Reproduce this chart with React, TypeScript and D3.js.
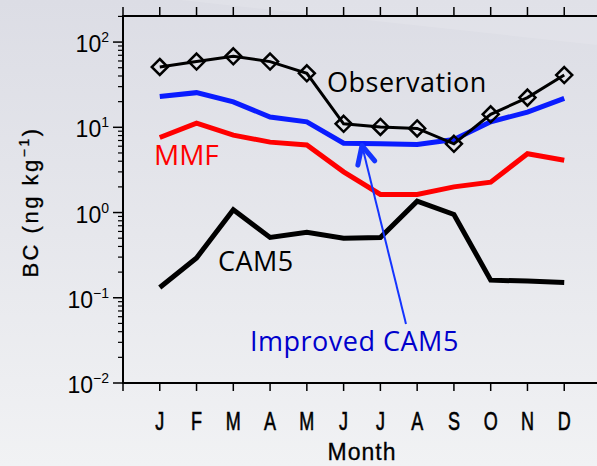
import React from "react";
import * as d3 from "d3";

const months = ["J", "F", "M", "A", "M", "J", "J", "A", "S", "O", "N", "D"];
const observation = [51, 59, 68, 59, 43, 11, 10.1, 9.7, 6.4, 14.2, 22.3, 41];
const improvedCam5 = [23, 25.5, 19.9, 13.2, 11.6, 6.5, 6.4, 6.3, 7.2, 11.6, 15.1, 21.8];
const mmf = [7.6, 11.2, 8.1, 6.7, 6.2, 3.0, 1.63, 1.63, 2.0, 2.27, 4.9, 4.1];
const cam5 = [0.132, 0.293, 1.08, 0.51, 0.586, 0.5, 0.51, 1.36, 0.95, 0.161, 0.157, 0.151];
const yDecades = [-2, -1, 0, 1, 2];

const W = 597;
const H = 466;
const L = 123, R = 601, T = 16, B = 383;

export default function App() {
  const x = d3.scaleLinear().domain([0, 13]).range([L, R]);
  const y = d3.scaleLog().domain([0.01, Math.pow(10, 2 + (42 - 16) / 85)]).range([B, T]);
  const line = d3
    .line<number>()
    .x((_, i) => x(i + 1))
    .y((d) => y(d));

  const minor: number[] = [];
  for (let e = -2; e <= 2; e++) {
    for (let k = 2; k <= 9; k++) {
      const v = k * Math.pow(10, e);
      if (v <= y.domain()[1]) minor.push(v);
    }
  }
  const xTicks = d3.range(0, 14);
  const labelFont = "'Liberation Sans', Arial, sans-serif";
  const annFont = "'Open Sans', Lato, sans-serif";

  const tipX = x(6.5);
  const tipY = y(6.45) + 2;
  const tailX = 406, tailY = 324;
  const ang = Math.atan2(tailY - tipY, tailX - tipX);
  const hl = 20;
  const spread = 0.45;

  return (
    <svg
      width={W}
      height={H}
      style={{ position: "absolute", left: 0, top: 0 }}
      xmlns="http://www.w3.org/2000/svg"
    >
      <defs>
        <linearGradient id="bg" x1="0" y1="0" x2="0" y2="1">
          <stop offset="0" stopColor="#dcdde5" />
          <stop offset="0.5" stopColor="#e6e7ec" />
          <stop offset="1" stopColor="#f1f2f4" />
        </linearGradient>
      </defs>
      <rect x={0} y={0} width={W} height={H} fill="url(#bg)" />
      <polygon points="180,0 597,0 597,45" fill="#ffffff" opacity={0.12} />

      {/* frame */}
      <rect x={L} y={T} width={R - L} height={B - T} fill="none" stroke="#000" strokeWidth={2} />

      {/* left ticks */}
      {yDecades.map((e) => (
        <line key={"mj" + e} x1={L - 10} x2={L} y1={y(Math.pow(10, e))} y2={y(Math.pow(10, e))} stroke="#000" strokeWidth={1.5} />
      ))}
      {minor.map((v, i) => (
        <line key={"mn" + i} x1={L - 5} x2={L} y1={y(v)} y2={y(v)} stroke="#000" strokeWidth={1.2} />
      ))}
      {/* bottom & top ticks */}
      {xTicks.map((t) => (
        <g key={"xt" + t}>
          <line x1={x(t)} x2={x(t)} y1={B} y2={B + 8} stroke="#000" strokeWidth={1.5} />
          <line x1={x(t)} x2={x(t)} y1={T} y2={T - 9} stroke="#000" strokeWidth={1.5} />
        </g>
      ))}

      {/* y tick labels */}
      {yDecades.map((e) => (
        <text
          key={"yl" + e}
          x={L - 14}
          y={y(Math.pow(10, e)) + 10}
          textAnchor="end"
          fontFamily={labelFont}
          fontSize={23}
          fill="#000"
        >
          10
          <tspan dy={-10} fontSize={14}>
            {e < 0 ? "\u2212" + Math.abs(e) : String(e)}
          </tspan>
        </text>
      ))}

      {/* month labels */}
      {months.map((m, i) => (
        <text
          key={"m" + i}
          transform={`translate(${x(i + 1)},430) scale(0.72,1)`}
          textAnchor="middle"
          fontFamily={labelFont}
          fontSize={25}
          stroke="#000"
          strokeWidth={0.6}
          fill="#000"
        >
          {m}
        </text>
      ))}
      <text x={(x(6) + x(7)) / 2} y={460} textAnchor="middle" fontFamily={labelFont} fontSize={23} letterSpacing={1} stroke="#000" strokeWidth={0.3} fill="#000">
        Month
      </text>
      <text
        transform={`translate(38,202) rotate(-90)`}
        textAnchor="middle"
        fontFamily={labelFont}
        fontSize={22}
        letterSpacing={2.5}
        stroke="#000"
        strokeWidth={0.3}
        fill="#000"
      >
        BC  (ng  kg
        <tspan dy={-9} fontSize={14}>−1</tspan>
        <tspan dy={9}>)</tspan>
      </text>

      {/* series */}
      <path d={line(cam5) || ""} fill="none" stroke="#000" strokeWidth={5} strokeLinejoin="miter" />
      <path d={line(mmf) || ""} fill="none" stroke="#ff0000" strokeWidth={5} />
      <path d={line(improvedCam5) || ""} fill="none" stroke="#0a1cff" strokeWidth={5} />
      <path d={line(observation) || ""} fill="none" stroke="#000" strokeWidth={3} />
      {observation.map((v, i) => (
        <path
          key={"d" + i}
          d={`M${x(i + 1)},${y(v) - 8}L${x(i + 1) + 8},${y(v)}L${x(i + 1)},${y(v) + 8}L${x(i + 1) - 8},${y(v)}Z`}
          fill="none"
          stroke="#000"
          strokeWidth={2.5}
        />
      ))}

      {/* arrow */}
      <line x1={tailX} y1={tailY} x2={tipX} y2={tipY} stroke="#1434ff" strokeWidth={2} />
      <polyline
        points={`${tipX + hl * Math.cos(ang - spread)},${tipY + hl * Math.sin(ang - spread)} ${tipX},${tipY} ${tipX + hl * Math.cos(ang + spread)},${tipY + hl * Math.sin(ang + spread)}`}
        fill="none"
        stroke="#1434ff"
        strokeWidth={5}
        strokeLinecap="round"
        strokeLinejoin="round"
      />

      {/* annotations */}
      <text x={327} y={92} fontFamily={annFont} fontSize={27} letterSpacing={0.5} fill="#000">Observation</text>
      <text x={154} y={165} fontFamily={annFont} fontSize={28} fill="#ff0000">MMF</text>
      <text x={218} y={271} fontFamily={annFont} fontSize={27} letterSpacing={0.5} fill="#000">CAM5</text>
      <text x={250} y={351} fontFamily={annFont} fontSize={27} letterSpacing={0.5} fill="#0000cc">Improved CAM5</text>
    </svg>
  );
}
